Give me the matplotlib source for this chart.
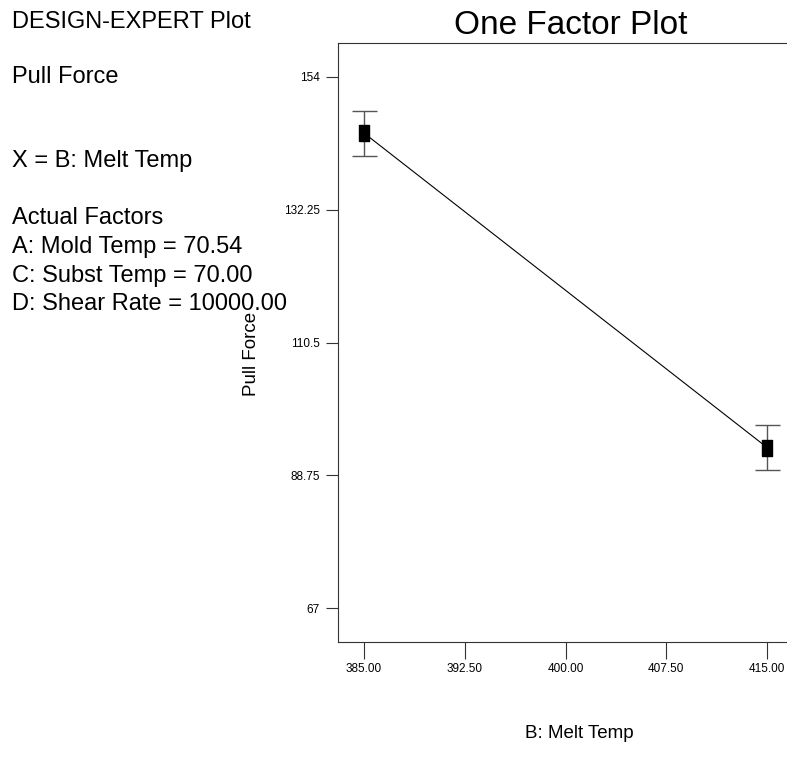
import matplotlib.pyplot as plt
import numpy as np
from matplotlib.ticker import FixedLocator

# data
melt_temp = [385.0, 415.0]
pull_force = [144.8, 93.3]
ci_half = [3.7, 3.7]
x_ticks = [385.00, 392.50, 400.00, 407.50, 415.00]
y_ticks = [67, 88.75, 110.5, 132.25, 154]

info_lines = [
    ("DESIGN-EXPERT Plot", 27.7),
    ("Pull Force", 83),
    ("X = B: Melt Temp", 167),
    ("Actual Factors", 224),
    ("A: Mold Temp = 70.54", 253),
    ("C: Subst Temp = 70.00", 282),
    ("D: Shear Rate = 10000.00", 310),
]

plt.rcParams['font.family'] = ['Liberation Sans', 'DejaVu Sans']

W, H = 787, 771
fig = plt.figure(figsize=(W / 100, H / 100), dpi=100)

def px(x, y):
    # pixel coords (from top-left) -> figure fraction
    return x / W, 1 - y / H

ax = fig.add_axes([338 / W, 129 / H, (804 - 338) / W, (642 - 43) / H])
ax.set_xlim(383.06, 417.75)
ax.set_ylim(61.44, 159.56)

ax.plot(melt_temp, pull_force, color='black', lw=0.8, zorder=2)
ax.errorbar(melt_temp, pull_force, yerr=ci_half, fmt='none', ecolor='#555555',
            elinewidth=1.0, capsize=9, capthick=1.0, zorder=3)
rect = [(-0.7, -1), (0.7, -1), (0.7, 1), (-0.7, 1), (-0.7, -1)]
ax.plot(melt_temp, pull_force, linestyle='none', marker=rect, markersize=11,
        color='black', zorder=4)

ax.xaxis.set_major_locator(FixedLocator(x_ticks))
ax.set_xticklabels(["%.2f" % v for v in x_ticks])
ax.yaxis.set_major_locator(FixedLocator(y_ticks))
ax.set_yticklabels(["%g" % v for v in y_ticks])

ax.tick_params(axis='x', direction='out', length=12, width=0.8, pad=3,
               labelsize=8.5, colors='#333333', labelcolor='black')
ax.tick_params(axis='y', direction='out', length=9, width=0.8, pad=4,
               labelsize=8.5, colors='#333333', labelcolor='black')
for s in ['left', 'top', 'bottom']:
    ax.spines[s].set_color('#333333')
    ax.spines[s].set_linewidth(0.8)
ax.spines['right'].set_visible(False)

fig.text(*px(571, 34), "One Factor Plot", fontsize=24, ha='center', va='baseline')
for txt, yb in info_lines:
    fig.text(*px(12, yb), txt, fontsize=17, ha='left', va='baseline')

fig.text(*px(252, 354), "Pull Force", fontsize=13.5, rotation=90,
         ha='center', va='center')
fig.text(*px(579, 733), "B: Melt Temp", fontsize=13.5, ha='center', va='center')

fig.savefig("out.png", dpi=100)
